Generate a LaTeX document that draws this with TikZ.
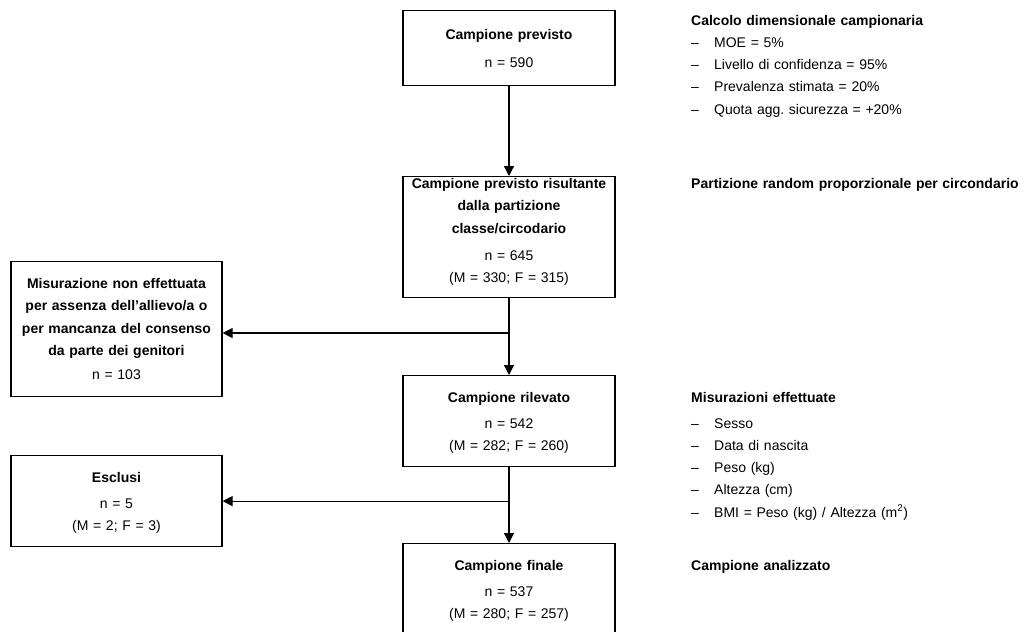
\documentclass[tikz,border=0pt]{standalone}
\usepackage{fontspec}
\setmainfont{Liberation Sans}
\frenchspacing
\usetikzlibrary{positioning, arrows.meta}
\tikzstyle{stage}=[rectangle, draw=black, line width=1.2pt, align=center, text width=200pt, inner xsep=6pt, inner ysep=0pt, anchor=north]
\tikzstyle{side}=[stage, text width=199pt]
\tikzstyle{note}=[align=left, text width=340pt, inner sep=0pt, anchor=base west]
\tikzstyle{flow}=[line width=1.2pt, -{Triangle[length=10pt, width=10pt]}]
\newcommand{\itm}{\makebox[23pt][l]{--}}

\begin{document}
\begin{tikzpicture}[x=1pt, y=1pt, font=\fontsize{14}{22.3}\selectfont]
    %sample flow from the planned sample down to the analysed one
    \useasboundingbox (0,0) rectangle (1026,-632);
    \node[stage, text height=29pt, text depth=46pt](plan) at (509,-10){\textbf{Campione previsto}\\[5.5pt] n = 590};
    \node[stage, text height=12pt, text depth=109pt](alloc) at (509,-176){\textbf{Campione previsto risultante}\\ \textbf{dalla partizione}\\ \textbf{classe/circodario}\\[4.5pt] n = 645\\ (M = 330; F = 315)};
    \node[stage, text height=27pt, text depth=64pt](meas) at (509,-375){\textbf{Campione rilevato}\\[3.7pt] n = 542\\ (M = 282; F = 260)};
    \node[stage, text height=27pt, text depth=64pt](final) at (509,-543){\textbf{Campione finale}\\[3.7pt] n = 537\\ (M = 280; F = 257)};
    \node[side, text height=27pt, text depth=108pt](missing) at (116.5,-261){\textbf{Misurazione non effettuata}\\ \textbf{per assenza dell’allievo/a o}\\ \textbf{per mancanza del consenso}\\ \textbf{da parte dei genitori}\\[2pt] n = 103};
    \node[side, text height=27pt, text depth=64pt](excl) at (116.5,-455){\textbf{Esclusi}\\[3.7pt] n = 5\\ (M = 2; F = 3)};
    \coordinate (fork1) at (509,-333);
    \coordinate (fork2) at (excl.east -| meas.south);
    \draw[flow] (plan.south) to (alloc.north);
    \draw[flow] (alloc.south) to (meas.north);
    \draw[flow] (meas.south) to (final.north);
    \draw[flow] (fork1) to (fork1 -| missing.east);
    \draw[flow] (fork2) to (excl.east);
    %notes on the right
    \node[note](calc) at (691,-25){\textbf{Calcolo dimensionale campionaria}\\ \itm MOE = 5\%\\ \itm Livello di confidenza = 95\%\\ \itm Prevalenza stimata = 20\%\\ \itm Quota agg. sicurezza = +20\%};
    \node[note](part) at (691,-188){\textbf{Partizione random proporzionale per circondario}};
    \node[note](taken) at (691,-402){\textbf{Misurazioni effettuate}\\[3.7pt] \itm Sesso\\ \itm Data di nascita\\ \itm Peso (kg)\\ \itm Altezza (cm)\\ \itm BMI = Peso (kg) / Altezza (m\textsuperscript{2})};
    \node[note](anal) at (691,-570){\textbf{Campione analizzato}};
\end{tikzpicture}
\end{document}
